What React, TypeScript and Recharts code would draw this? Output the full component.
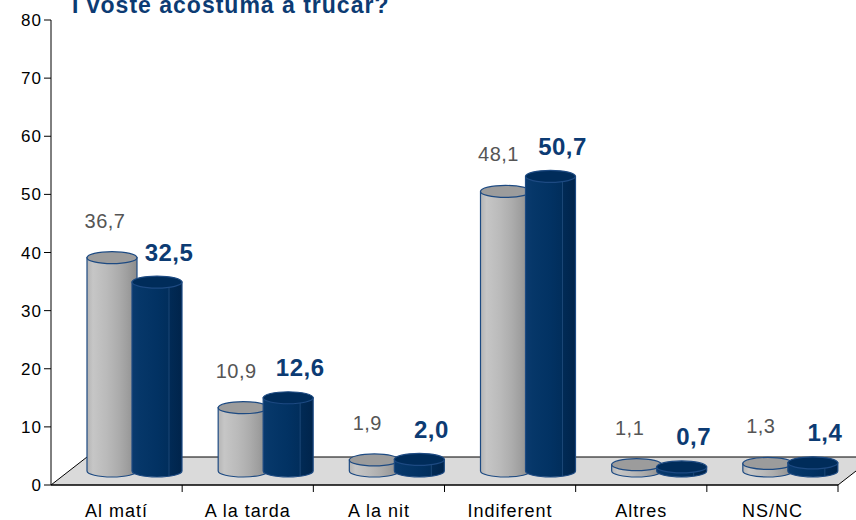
import React from 'react';
import { BarChart, Bar, XAxis, YAxis, ReferenceArea, LabelList } from 'recharts';

const categories = ['Al matí', 'A la tarda', 'A la nit', 'Indiferent', 'Altres', 'NS/NC'];
const seriesGrey = [36.7, 10.9, 1.9, 48.1, 1.1, 1.3];
const seriesNavy = [32.5, 12.6, 2.0, 50.7, 0.7, 1.4];
const yTicks = [0, 10, 20, 30, 40, 50, 60, 70, 80];
const title = 'I vostè acostuma a trucar?';

const data = categories.map((name, i) => ({ name, grey: seriesGrey[i], navy: seriesNavy[i] }));

const W = 856;
const H = 520;
const MARGIN = { top: 20, right: 18, left: 0, bottom: 0 };
const Y_AXIS_W = 51;
const X_AXIS_H = 35;
const PLOT_W = W - MARGIN.left - MARGIN.right - Y_AXIS_W;
const BAND = PLOT_W / categories.length;

const DEPTH_X = 36;
const DEPTH_Y = 28;
const DX = DEPTH_X / 2;
const DY = -DEPTH_Y / 2;

const FONT = '"Liberation Sans", Arial, Helvetica, sans-serif';
const NAVY_TEXT = '#0c3b73';
const OUTLINE = '#1d4a82';

const fmt = (v: number) => v.toFixed(1).replace('.', ',');

const makeCylinder = (kind: 'grey' | 'navy') => (props: any) => {
  const { x, y, width, height, index } = props;
  if (x == null || y == null) return null;
  const l = x + DX;
  const r = x + width + DX;
  const top = y + DY;
  const bot = y + height + DY;
  const rx = width / 2;
  const ry = 6;
  const id = `cyl-${kind}-${index}`;
  const stops =
    kind === 'grey'
      ? [
          ['0', '#b4b4b4'],
          ['0.12', '#c6c6c6'],
          ['0.4', '#bababa'],
          ['0.62', '#adadad'],
          ['0.8', '#9f9f9f'],
          ['1', '#8c8c8c'],
        ]
      : [
          ['0', '#0a3a6e'],
          ['0.15', '#063769'],
          ['0.5', '#023263'],
          ['0.72', '#012e5c'],
          ['0.74', '#1a4676'],
          ['0.76', '#012a55'],
          ['1', '#00244b'],
        ];
  const topFill = kind === 'grey' ? '#9c9c9c' : '#002c5a';
  return (
    <g>
      <defs>
        <linearGradient id={id} x1="0" y1="0" x2="1" y2="0">
          {stops.map(([o, c]) => (
            <stop key={o} offset={o} stopColor={c} />
          ))}
        </linearGradient>
      </defs>
      <path
        d={`M${l},${top} L${l},${bot} A${rx},${ry} 0 0 0 ${r},${bot} L${r},${top} Z`}
        fill={`url(#${id})`}
        stroke={OUTLINE}
        strokeWidth={1.2}
      />
      <ellipse cx={l + rx} cy={top} rx={rx} ry={ry} fill={topFill} stroke={OUTLINE} strokeWidth={1.2} />
    </g>
  );
};

const Floor = (props: any) => {
  const { x, y, width, height } = props;
  const base = y + height;
  const pts = [
    [x, base],
    [x + width, base],
    [x + width + DEPTH_X, base - DEPTH_Y],
    [x + DEPTH_X, base - DEPTH_Y],
  ]
    .map((p) => p.join(','))
    .join(' ');
  return <polygon points={pts} fill="#dadada" stroke="#000" strokeWidth={1} />;
};

const XTick = (props: any) => {
  const { x, y, payload } = props;
  return (
    <g>
      <line x1={x + BAND / 2} x2={x + BAND / 2} y1={y - 7} y2={y} stroke="#000" strokeWidth={1} />
      <text x={x} y={y + 25} textAnchor="middle" fill="#000" fontSize={18} fontFamily={FONT} letterSpacing={1}>
        {payload.value}
      </text>
    </g>
  );
};

const greyLabel = (p: any) => (
  <text
    x={p.x + p.width / 2 + DX - 7}
    y={p.y + DY - 37}
    textAnchor="middle"
    dominantBaseline="central"
    fill="#555555"
    fontSize={20}
    fontFamily={FONT}
    letterSpacing={0.5}
  >
    {fmt(p.value)}
  </text>
);

const navyLabel = (p: any) => (
  <text
    x={p.x + p.width / 2 + DX + 12}
    y={p.y + DY - 30}
    textAnchor="middle"
    dominantBaseline="central"
    fill={NAVY_TEXT}
    fontSize={24}
    fontWeight="bold"
    fontFamily={FONT}
    letterSpacing={0.5}
  >
    {fmt(p.value)}
  </text>
);

export default function App() {
  return (
    <div style={{ position: 'absolute', left: 0, top: 0, width: W, height: H, background: '#fff' }}>
      <BarChart width={W} height={H} data={data} margin={MARGIN} barSize={50} barGap={-5}>
        <ReferenceArea y1={0} y2={1} shape={Floor} ifOverflow="visible" />
        <XAxis
          dataKey="name"
          height={X_AXIS_H}
          tickLine={false}
          tickSize={7}
          tickMargin={0}
          axisLine={{ stroke: '#000' }}
          tick={XTick}
          interval={0}
        />
        <YAxis
          width={Y_AXIS_W}
          domain={[0, 80]}
          ticks={yTicks}
          tickSize={7}
          tickMargin={2}
          axisLine={{ stroke: '#000' }}
          tickLine={{ stroke: '#000' }}
          tick={{ fill: '#000', fontSize: 17, fontFamily: FONT, letterSpacing: 1 }}
          allowDataOverflow
        />
        <Bar dataKey="grey" isAnimationActive={false} shape={makeCylinder('grey')}>
          <LabelList dataKey="grey" content={greyLabel} />
        </Bar>
        <Bar dataKey="navy" isAnimationActive={false} shape={makeCylinder('navy')}>
          <LabelList dataKey="navy" content={navyLabel} />
        </Bar>
      </BarChart>
      <svg width={W} height={30} style={{ position: 'absolute', left: 0, top: 0, pointerEvents: 'none' }}>
        <text x={72} y={13} fill={NAVY_TEXT} fontSize={23} fontWeight="bold" fontFamily={FONT} letterSpacing={1}>
          {title}
        </text>
      </svg>
    </div>
  );
}
